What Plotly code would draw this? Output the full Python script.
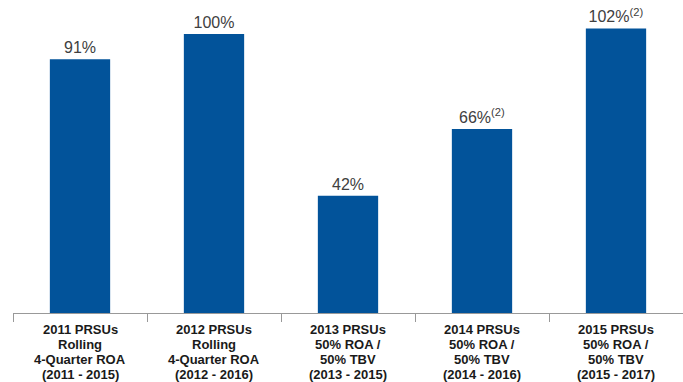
import plotly.graph_objects as go

categories = ["2011 PRSUs", "2012 PRSUs", "2013 PRSUs", "2014 PRSUs", "2015 PRSUs"]
label_lines = [
    ["2011 PRSUs", "Rolling", "4-Quarter ROA", "(2011 - 2015)"],
    ["2012 PRSUs", "Rolling", "4-Quarter ROA", "(2012 - 2016)"],
    ["2013 PRSUs", "50% ROA /", "50% TBV", "(2013 - 2015)"],
    ["2014 PRSUs", "50% ROA /", "50% TBV", "(2014 - 2016)"],
    ["2015 PRSUs", "50% ROA /", "50% TBV", "(2015 - 2017)"],
]
values = [91, 100, 42, 66, 102]
value_labels = ["91%", "100%", "42%", "66%<sup>(2)</sup>", "102%<sup>(2)</sup>"]

fig = go.Figure()
fig.add_trace(go.Bar(
    x=categories, y=values, text=value_labels,
    textposition="outside", cliponaxis=False,
    textfont=dict(family="Liberation Sans, Arial", size=16, color="#404040"),
    marker=dict(color="#02539A", line=dict(width=0)),
    width=0.45,
))

for cat, lines in zip(categories, label_lines):
    for i, line in enumerate(lines):
        fig.add_annotation(
            x=cat, xref="x", y=0, yref="paper", yanchor="middle",
            yshift=-(16 + 15 * i), text="<b>%s</b>" % line, showarrow=False,
            font=dict(family="Liberation Sans, Arial", size=13, color="#1a1a1a"),
        )

fig.update_layout(
    width=683, height=382,
    margin=dict(l=13, r=0, t=0, b=69),
    paper_bgcolor="white", plot_bgcolor="white",
    showlegend=False,
    bargap=0.55,
    xaxis=dict(showticklabels=False, ticks="outside", tickson="boundaries",
               ticklen=8, tickcolor="#999999", tickwidth=1,
               showline=True, linecolor="#999999", linewidth=1,
               showgrid=False, zeroline=False),
    yaxis=dict(visible=False, range=[0, 112.2], showgrid=False, zeroline=False),
)

fig.write_html("out.html")
